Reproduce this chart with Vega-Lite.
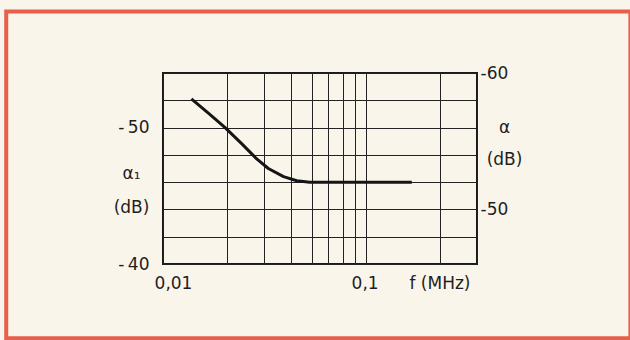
{
  "$schema": "https://vega.github.io/schema/vega-lite/v6.json",
  "width": 314,
  "height": 191,
  "autosize": "none",
  "padding": {"left": 163, "top": 73, "right": 153, "bottom": 76},
  "background": "#faf5eb",
  "config": {
    "view": {"stroke": "#1a1a1a", "strokeWidth": 2},
    "font": "DejaVu Sans",
    "axis": {
      "labelFont": "DejaVu Sans",
      "titleFont": "DejaVu Sans",
      "labelColor": "#1e1e1e",
      "titleColor": "#1e1e1e",
      "labelFontSize": 17,
      "titleFontSize": 17,
      "titleFontWeight": "normal",
      "ticks": false,
      "domain": false,
      "labelOverlap": false,
      "labelFlush": false,
      "labelBound": false
    }
  },
  "data": {
    "values": [
      {"f": 0.0136, "a1": -52.1},
      {"f": 0.0165, "a1": -51.0},
      {"f": 0.0196, "a1": -50.0},
      {"f": 0.0235, "a1": -48.8},
      {"f": 0.0276, "a1": -47.7},
      {"f": 0.0313, "a1": -47.0},
      {"f": 0.0369, "a1": -46.4},
      {"f": 0.0426, "a1": -46.1},
      {"f": 0.049, "a1": -46.0},
      {"f": 0.148, "a1": -46.0}
    ]
  },
  "layer": [
    {
      "data": {"values": [{}]},
      "mark": {"type": "rect", "filled": false, "stroke": "#e85f4c", "strokeWidth": 4, "clip": false},
      "encoding": {
        "x": {"datum": 0.00183, "type": "quantitative", "scale": {"type": "log", "domain": [0.01, 0.3], "nice": false}},
        "x2": {"datum": 1.58},
        "y": {"datum": -58.5, "type": "quantitative", "scale": {"domain": [-40, -54], "nice": false, "zero": false}, "axis": null},
        "y2": {"datum": -34.55}
      }
    },
    {
      "mark": {"type": "line", "color": "#151515", "strokeWidth": 3, "strokeJoin": "round", "strokeCap": "butt"},
      "encoding": {
        "x": {
          "field": "f", "type": "quantitative",
          "scale": {"type": "log", "domain": [0.01, 0.3], "nice": false},
          "axis": {
            "values": [0.01, 0.02, 0.03, 0.04, 0.05, 0.06, 0.07, 0.08, 0.09, 0.1, 0.2, 0.3],
            "grid": true,
            "gridColor": "#222222",
            "gridWidth": 1,
            "gridOpacity": {"condition": {"test": "abs(datum.value - 0.1) < 1e-9", "value": 0}, "value": 1},
            "labelExpr": "abs(datum.value - 0.01) < 1e-9 ? '0,01' : (abs(datum.value - 0.1) < 1e-9 ? '0,1' : '')",
            "labelAlign": "center",
            "labelBaseline": "top",
            "labelPadding": 11,
            "labelOffset": {"condition": {"test": "datum.value < 0.05", "value": 10}, "value": -11},
            "title": "f (MHz)",
            "titleAlign": "right",
            "titleBaseline": "top",
            "titleX": 307,
            "titleY": 11
          }
        },
        "y": {
          "field": "a1", "type": "quantitative",
          "scale": {"domain": [-40, -54], "nice": false, "zero": false},
          "axis": {
            "orient": "left",
            "values": [-40, -42, -44, -46, -48, -50, -52, -54],
            "grid": true,
            "gridColor": "#222222",
            "gridWidth": 1,
            "labelExpr": "datum.value == -40 ? '-\u200940' : (datum.value == -50 ? '-\u200950' : '')",
            "labelPadding": 14,
            "labelBaseline": "middle",
            "title": ["α₁", "(dB)"],
            "titleAngle": 0,
            "titleAlign": "center",
            "titleBaseline": "alphabetic",
            "titleX": -32,
            "titleY": 105,
            "titleLineHeight": 34.5
          }
        }
      }
    },
    {
      "mark": {"type": "line", "opacity": 0},
      "encoding": {
        "x": {"field": "f", "type": "quantitative", "scale": {"type": "log", "domain": [0.01, 0.3], "nice": false}},
        "y": {
          "field": "a1", "type": "quantitative",
          "scale": {"domain": [-46, -60], "nice": false, "zero": false},
          "axis": {
            "orient": "right",
            "values": [-60, -50],
            "grid": false,
            "labelExpr": "datum.value == -60 ? '-60' : '-50'",
            "labelAlign": "left",
            "labelBaseline": "middle",
            "labelPadding": 3,
            "title": ["α", "(dB)"],
            "titleAngle": 0,
            "titleAlign": "center",
            "titleBaseline": "alphabetic",
            "titleX": 27,
            "titleY": 59,
            "titleLineHeight": 32
          }
        }
      }
    }
  ],
  "resolve": {"scale": {"y": "independent"}}
}
